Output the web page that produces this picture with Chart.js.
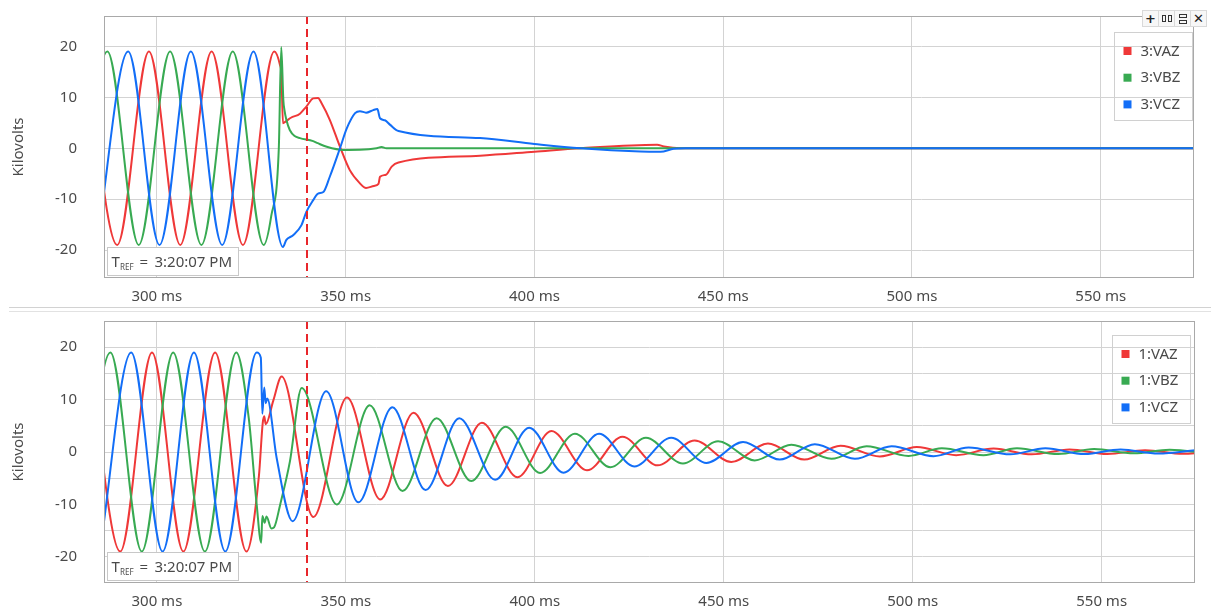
<!DOCTYPE html>
<html>
<head>
<meta charset="utf-8">
<title>Kilovolts</title>
<script src="https://cdn.jsdelivr.net/npm/chart.js@4/dist/chart.umd.min.js"></script>
<style>
  html, body { margin: 0; background: #fff; }
  body { position: relative; width: 1211px; height: 606px; overflow: hidden; font-family: "Noto Sans", sans-serif; }
  .pane { position: absolute; left: 0; width: 1211px; }
  #paneTop { top: 0; height: 306px; }
  #paneBottom { top: 312px; height: 294px; }
  .divider { position: absolute; left: 9px; right: 0; top: 307px; height: 3px; border-top: 1px solid #d2d2d2; border-bottom: 1px solid #e2e2e2; }
  .toolbar { position: absolute; top: 10px; left: 1143px; display: flex; }
  .toolbar span { box-sizing: border-box; width: 17px; height: 17px; border: 1px solid #d9d9d9; background: #f7f7f7; margin-left: -1px;
                  display: flex; align-items: center; justify-content: center; font: bold 13px "DejaVu Sans", sans-serif; color: #222; }
  .toolbar i { display: block; box-sizing: border-box; border: 1px solid #333; }
  .toolbar .cols i { width: 4px; height: 7px; margin: 0 1px; }
  .toolbar .rows { flex-direction: column; }
  .toolbar .rows i { width: 8px; height: 4px; margin: 1px 0; }
</style>
</head>
<body>
<div class="pane" id="paneTop"><canvas id="topChart"></canvas></div>
<div class="divider"></div>
<div class="pane" id="paneBottom"><canvas id="bottomChart"></canvas></div>
<div class="toolbar">
  <span>+</span>
  <span class="cols"><i></i><i></i></span>
  <span class="rows"><i></i><i></i></span>
  <span>✕</span>
</div>

<script>
// axes: time in ms, voltage in kV
const timeTicks = [300, 350, 400, 450, 500, 550];
const topKvTicks = [-20, -10, 0, 10, 20];
const bottomKvTicks = [-20, -15, -10, -5, 0, 5, 10, 15, 20];
const markerMs = 339.75;
const refTime = '3:20:07 PM';

const topNames = ['3:VAZ', '3:VBZ', '3:VCZ'];
const bottomNames = ['1:VAZ', '1:VBZ', '1:VCZ'];
const phaseColors = ['#ef3838', '#38aa52', '#126ef7'];

// [ms, kV] samples, terminal 3
const top3VAZ = [
  [281.2, 19], [289.5, -19], [297.9, 19], [306.2, -19], [314.5, 19], [322.8, -19], [331.1, 19],
  [332.6, 16.4], [333.0, 14.5], [333.4, 4.9], [334.2, 5.3], [335.5, 6.0], [337.9, 6.8], [339.6, 8.2],
  [341.4, 9.8], [342.7, 9.9], [343.6, 8.9], [345.8, 5.6], [348.5, 0.3], [351.1, -4.3], [353.8, -6.9],
  [355.4, -7.8], [357.5, -7.4], [358.7, -7.0], [359.1, -5.6], [360.7, -5.2], [362.2, -3.6], [364.0, -2.8],
  [385.6, -1.45], [400.0, -0.67], [412.2, 0.0], [432.5, 0.7], [434.3, 0.35], [438.7, 0.0], [575, 0]
];
const top3VBZ = [
  [278.6, -19], [286.9, 19], [295.2, -19], [303.5, 19], [311.8, -19], [320.1, 19], [328.3, -19],
  [330.3, -13.3], [332.3, 0], [332.95, 19.9], [333.5, 9.5], [333.8, 7.5], [334.3, 5.6], [335.2, 3.6],
  [336.5, 2.4], [337.9, 2.0], [341.4, 1.4], [342.6, 1.0], [345.0, 0.3], [349.4, -0.33], [353.8, -0.3],
  [358.2, 0], [359.5, 0.25], [360.8, 0], [575, 0]
];
const top3VCZ = [
  [284.1, -19], [292.4, 19], [300.7, -19], [309.0, 19], [317.3, -19], [325.6, 19],
  [333.4, -19.4], [334.3, -18.0], [336.1, -17.1], [338.3, -15.1], [339.6, -12.5], [341.4, -10.2],
  [342.7, -8.9], [344.1, -8.6], [345.8, -5.6], [348.5, 0], [350.3, 3.9], [352.5, 6.9], [353.8, 7.3],
  [355.4, 7.0], [357.3, 7.5], [358.4, 7.7], [359.1, 5.9], [360.4, 5.5], [361.8, 4.6], [364.0, 3.4],
  [385.6, 2.0], [400.0, 0.85], [412.2, 0], [428.1, -0.65], [433.4, -0.7], [436.9, -0.1], [440, 0], [575, 0]
];

// [ms, kV] samples, terminal 1
const bot1VAZ = [
  [282.0, 19], [290.3, -19], [298.7, 19], [307.0, -19], [315.4, 19], [323.7, -19],
  [327.0, -4.5], [328.0, 5.5], [328.4, 6.8], [328.8, 5.3], [330.8, 9.8], [333.0, 14.4],
  [341.4, -12.4], [350.3, 10.4], [359.1, -9.05], [367.9, 7.5], [377.0, -6.5], [386.0, 5.6],
  [395.4, -4.8], [404.4, 4.0], [413.8, -3.5], [423.2, 2.9], [432.5, -2.55], [442.3, 2.2],
  [452.0, -1.9], [461.7, 1.6], [471.3, -1.45], [480.9, 1.2], [491.3, -0.85], [501.1, 0.95],
  [511.5, -0.6], [521.4, 0.65], [531.5, -0.45], [541.5, 0.5], [551.5, -0.4], [561.5, 0.35],
  [571.5, -0.35], [581.5, 0.3]
];
const bot1VBZ = [
  [279.4, -19], [287.7, 19], [296.0, -19], [304.3, 19], [312.7, -19], [321.0, 19],
  [324.3, 6.5], [326.4, -10.0], [327.6, -17.3], [327.9, -12.2], [328.5, -13.5], [329.0, -12.3],
  [330.3, -14.6], [331.0, -14.4], [332.6, -10.1], [335.2, -1.8], [338.3, 12.2],
  [347.6, -10.0], [356.3, 8.9], [365.0, -7.45], [374.0, 6.45], [383.2, -5.55], [392.3, 4.8],
  [401.4, -4.0], [410.6, 3.5], [420.0, -2.9], [429.4, 2.7], [439.2, -2.2], [448.5, 2.05],
  [458.2, -1.6], [467.9, 1.4], [478.5, -1.3], [487.8, 1.1], [498.9, -0.75], [507.7, 0.7],
  [518.7, -0.6], [527.6, 0.7], [538.5, -0.4], [548.0, 0.55], [558.5, -0.25], [568.0, 0.45],
  [578.0, -0.2]
];
const bot1VCZ = [
  [284.9, -19], [293.2, 19], [301.5, -19], [309.8, 19], [318.1, -19], [326.4, 19],
  [327.5, 18.0], [327.9, 7.3], [328.4, 12.3], [328.8, 9.3], [329.2, 10.2], [331.7, -1.2],
  [335.9, -13.2], [344.8, 11.6], [353.3, -9.6], [362.3, 8.55], [371.1, -7.25], [380.0, 6.45],
  [389.5, -5.3], [398.5, 4.65], [407.6, -3.95], [417.0, 3.5], [426.3, -2.75], [436.1, 2.7],
  [445.4, -2.1], [455.1, 1.9], [464.8, -1.45], [474.1, 1.5], [484.7, -1.3], [494.4, 1.1],
  [505.5, -0.8], [514.8, 0.85], [525.8, -0.45], [535.1, 0.7], [545.5, -0.4], [555.0, 0.5],
  [565.0, -0.3], [575.0, 0.35]
];

var FONT = '"Noto Sans", "Open Sans", sans-serif';
var TEXT = '#4a4a4a';
var GRID = '#d3d3d3';

// frame, trigger marker, boxed legend and reference-time tag
var scopeDecor = {
  id: 'scopeDecor',
  afterDatasetsDraw: function (chart) {
    var ctx = chart.ctx, a = chart.chartArea;
    var px = Math.round(chart.scales.x.getPixelForValue(markerMs));
    ctx.save();
    ctx.strokeStyle = '#e8262b';
    ctx.lineWidth = 2;
    ctx.setLineDash([8, 5]);
    ctx.beginPath();
    ctx.moveTo(px, a.top);
    ctx.lineTo(px, a.bottom);
    ctx.stroke();
    ctx.restore();
  },
  afterDraw: function (chart, args, opts) {
    var ctx = chart.ctx, a = chart.chartArea;
    ctx.save();
    ctx.strokeStyle = '#a9a9a9';
    ctx.lineWidth = 1;
    ctx.strokeRect(a.left + 0.5, a.top + 0.5, a.right - a.left - 1, a.bottom - a.top - 1);

    // legend
    var lw = 78, lh = 88;
    var lx = Math.round(a.right - opts.legendRight - lw) + 0.5;
    var ly = Math.round(a.top + opts.legendTop) + 0.5;
    ctx.strokeStyle = '#d0d0d0';
    ctx.strokeRect(lx, ly, lw, lh);
    ctx.font = '15px ' + FONT;
    ctx.textBaseline = 'middle';
    ctx.textAlign = 'left';
    chart.data.datasets.forEach(function (ds, i) {
      var y = ly + 18.5 + i * 26.7;
      ctx.fillStyle = ds.borderColor;
      ctx.fillRect(lx + 9, y - 4, 8, 8);
      ctx.fillStyle = TEXT;
      ctx.fillText(ds.label, lx + 26, y + 0.5);
    });

    // reference time tag
    var bx = Math.round(a.left + 3) + 0.5, by = Math.round(a.bottom - 31) + 0.5;
    ctx.fillStyle = '#fff';
    ctx.fillRect(bx, by, 131, 28);
    ctx.strokeStyle = '#c8c8c8';
    ctx.strokeRect(bx, by, 131, 28);
    ctx.fillStyle = TEXT;
    ctx.textBaseline = 'alphabetic';
    ctx.font = '15px ' + FONT;
    ctx.fillText('T', bx + 4, by + 19.5);
    ctx.font = '8px ' + FONT;
    ctx.fillText('REF', bx + 12.5, by + 22);
    ctx.font = '15px ' + FONT;
    ctx.fillText('=', bx + 32, by + 19.5);
    ctx.fillText(refTime, bx + 47, by + 19.5);
    ctx.restore();
  }
};

function scopeChart(canvasId, names, series, view) {
  var ctx = document.getElementById(canvasId).getContext('2d');
  return new Chart(ctx, {
    type: 'line',
    data: {
      datasets: series.map(function (pts, i) {
        return {
          label: names[i],
          data: pts.map(function (p) { return { x: p[0], y: p[1] }; }),
          borderColor: phaseColors[i],
          backgroundColor: phaseColors[i],
          borderWidth: 2,
          pointRadius: 0,
          cubicInterpolationMode: 'monotone',
          capBezierPoints: false,
          clip: 0,
          fill: false,
          order: 2 - i
        };
      })
    },
    options: {
      responsive: true,
      maintainAspectRatio: false,
      animation: false,
      events: [],
      layout: { padding: view.padding },
      plugins: {
        legend: { display: false },
        tooltip: { enabled: false },
        scopeDecor: { legendRight: view.legendRight, legendTop: view.legendTop }
      },
      scales: {
        x: {
          type: 'linear',
          min: 286,
          max: 574.7,
          afterBuildTicks: function (s) { s.ticks = timeTicks.map(function (v) { return { value: v }; }); },
          afterFit: function (s) {
            s.height = view.xHeight;
            s.paddingLeft = s.paddingRight = 0;
          },
          grid: { color: GRID, drawTicks: false },
          border: { display: false },
          ticks: {
            padding: 10, color: TEXT, maxRotation: 0, autoSkip: false,
            font: { family: FONT, size: 15 },
            callback: function (v) { return v + ' ms'; }
          }
        },
        y: {
          min: view.yMin,
          max: view.yMax,
          afterBuildTicks: function (s) { s.ticks = view.kvTicks.map(function (v) { return { value: v }; }); },
          afterFit: function (s) {
            s.width = 104;
            s.paddingTop = s.paddingBottom = 0;
          },
          grid: { color: GRID, drawTicks: false },
          border: { display: false },
          ticks: {
            padding: 27, color: TEXT,
            font: { family: FONT, size: 15 },
            callback: function (v) { return v % 10 === 0 ? v : ''; }
          },
          title: {
            display: true, text: 'Kilovolts', color: TEXT,
            font: { family: FONT, size: 15 },
            padding: { top: 10, bottom: 0 }
          }
        }
      }
    },
    plugins: [scopeDecor]
  });
}

scopeChart('topChart', topNames, [top3VAZ, top3VBZ, top3VCZ], {
  padding: { top: 16, right: 17, bottom: 0, left: 0 },
  xHeight: 28, yMin: -25.5, yMax: 26, kvTicks: topKvTicks,
  legendRight: 2.5, legendTop: 15.5
});

scopeChart('bottomChart', bottomNames, [bot1VAZ, bot1VBZ, bot1VCZ], {
  padding: { top: 9, right: 16, bottom: 0, left: 0 },
  xHeight: 23, yMin: -25, yMax: 25, kvTicks: bottomKvTicks,
  legendRight: 5.5, legendTop: 13.5
});
</script>
</body>
</html>
